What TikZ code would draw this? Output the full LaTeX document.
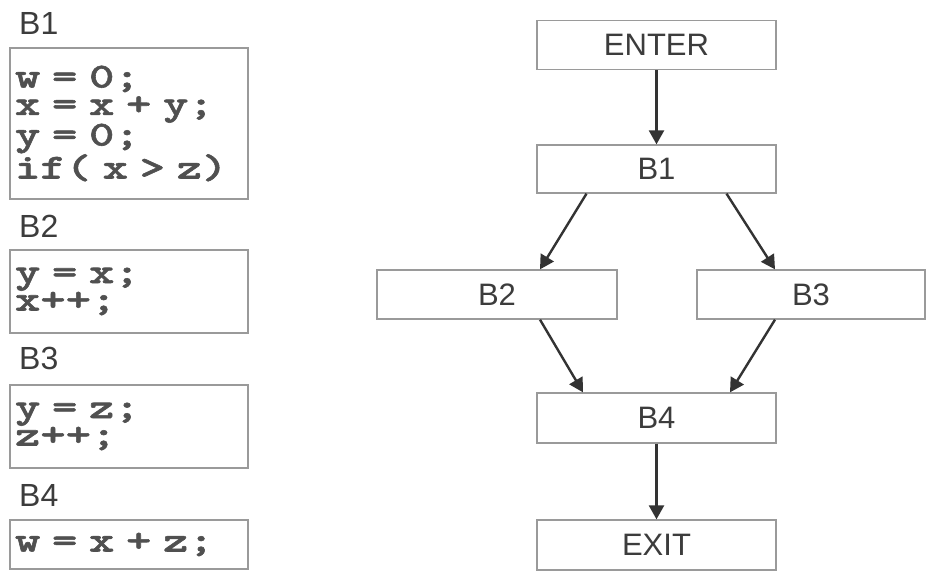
\documentclass[tikz,border=0pt]{standalone}
\usepackage{fontspec}
\setmainfont{Liberation Sans}
\newfontfamily\codefont{lmmonolt10-bold}[Extension=.otf, FakeBold=1.6, FakeStretch=1.38]
\usetikzlibrary{arrows.meta,calc}
\definecolor{boxgray}{HTML}{9A9A9A}
\definecolor{arrowgray}{HTML}{333333}
\definecolor{labelgray}{HTML}{3C3C3C}
\definecolor{codegray}{HTML}{505050}
\begin{document}
\begin{tikzpicture}[x=1pt,y=-1pt,
  flowbox/.style={draw=boxgray, line width=1.3pt, fill=white, minimum width=239pt,
    minimum height=49pt, inner sep=0pt, font=\fontsize{31}{36}\selectfont, text=labelgray},
  codebox/.style={draw=boxgray, line width=1.3pt, fill=white, text width=228pt,
    inner xsep=5pt, inner ysep=0pt, align=left,
    font=\codefont\fontsize{35}{27.5}\selectfont, text=codegray},
  blocklabel/.style={anchor=base west, inner sep=0pt, font=\fontsize{32}{36}\selectfont, text=labelgray},
  flowarrow/.style={draw=arrowgray, line width=2.4pt, -{Triangle[length=14pt,width=15pt]}}]
\useasboundingbox (0,0) rectangle (926,572);
\fill[white] (0,0) rectangle (926,572);

% left: code blocks
\node[blocklabel] (l1) at (19,35) {B1};
\node[codebox, minimum height=151pt] (c1) at (129,123.5) {w = 0;\\x = x + y;\\y = 0;\\if( x > z)};
\node[blocklabel] (l2) at (19,237) {B2};
\node[codebox, minimum height=83pt] (c2) at (129,291.5) {y = x;\\x++;};
\node[blocklabel] (l3) at (19,369) {B3};
\node[codebox, minimum height=83pt] (c3) at (129,426.5) {y = z;\\z++;};
\node[blocklabel] (l4) at (19,506) {B4};
\node[codebox, minimum height=49pt] (c4) at (129,544.5) {w = x + z;};

% right: control flow graph
\node[flowbox] (enter) at (656.5,45) {ENTER};
\node[flowbox, minimum height=48pt] (b1) at (656.5,169) {B1};
\node[flowbox, minimum width=240pt] (b2) at (497,294.5) {B2};
\node[flowbox, minimum width=228pt] (b3) at (811,294.5) {B3};
\node[flowbox, minimum height=50pt] (b4) at (656.5,418) {B4};
\node[flowbox, minimum height=50pt] (exit) at (656.5,545) {EXIT};

\draw[flowarrow] (enter) -- (b1);
\draw[flowarrow] ($(b1.south)+(-70,0)$) -- ($(b2.north)+(43,0)$);
\draw[flowarrow] ($(b1.south)+(70,0)$) -- ($(b3.north)+(-36,0)$);
\draw[flowarrow] ($(b2.south)+(43,0)$) -- ($(b4.north)+(-73.5,0)$);
\draw[flowarrow] ($(b3.south)+(-36,0)$) -- ($(b4.north)+(73.5,0)$);
\draw[flowarrow] (b4) -- (exit);
\end{tikzpicture}
\end{document}
